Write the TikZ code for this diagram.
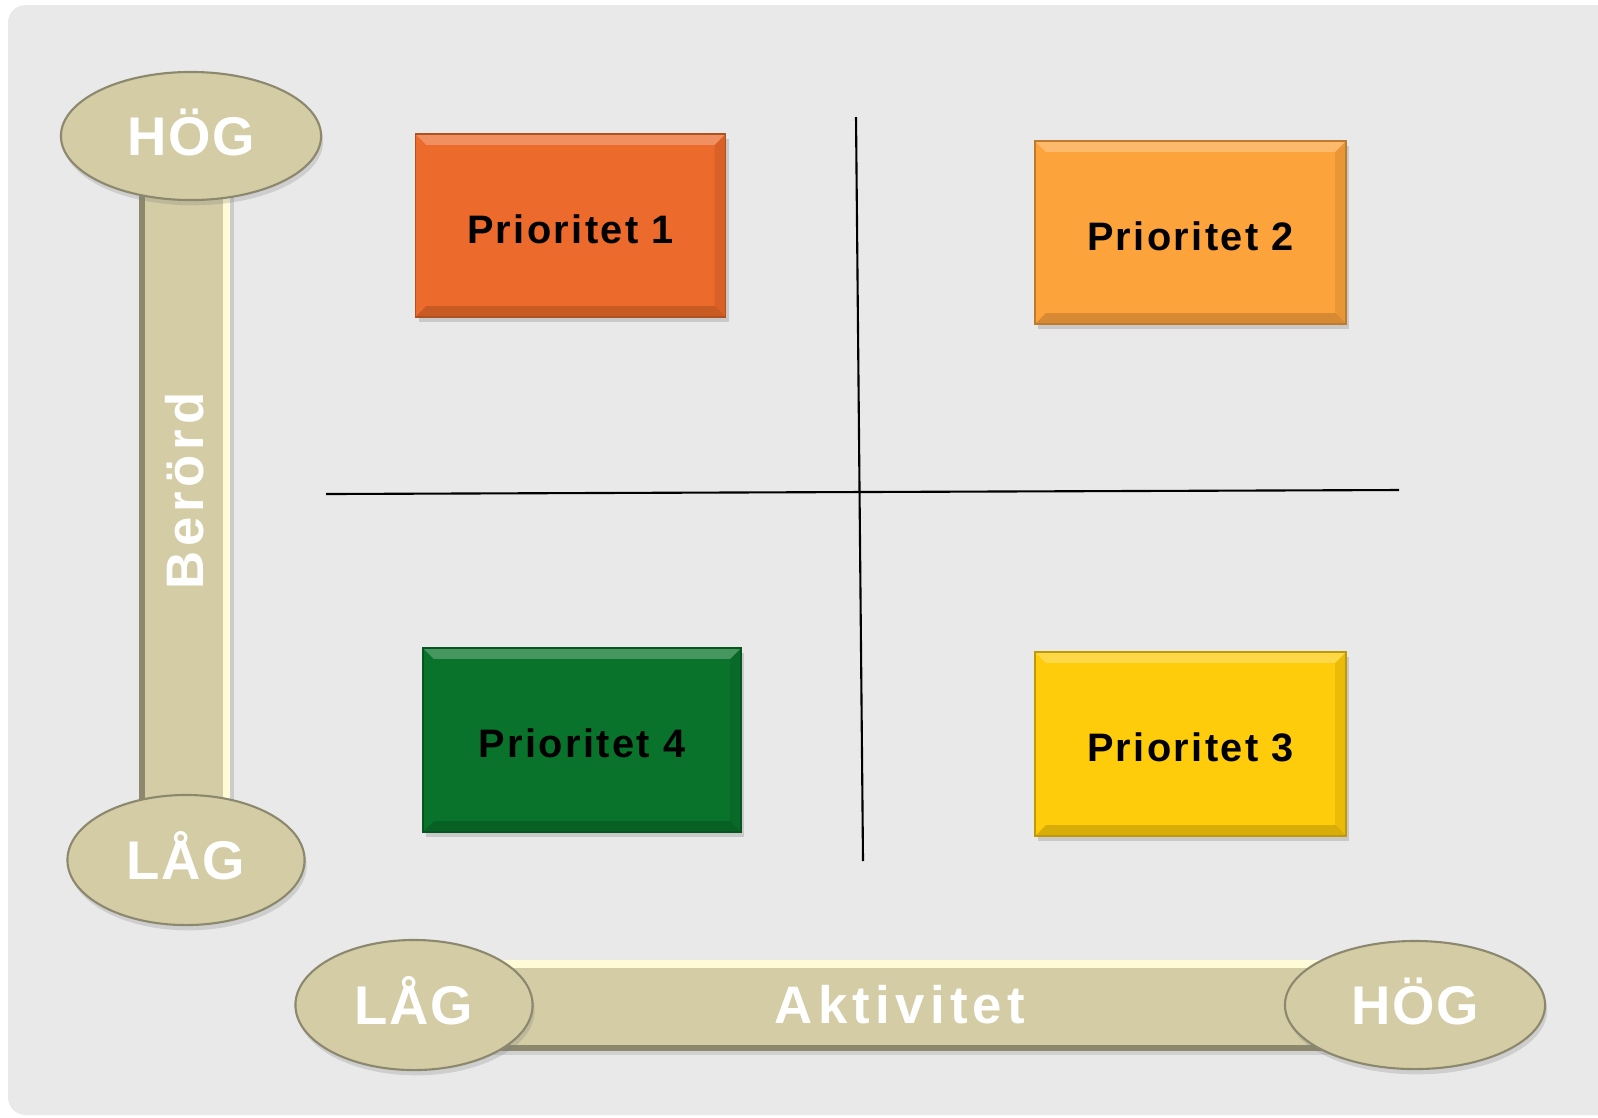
\documentclass[tikz,border=0pt]{standalone}
\usepackage{fontspec}
\setmainfont{Liberation Sans}
\newfontfamily\boxfont[LetterSpace=6]{Liberation Sans}
\newfontfamily\axisfont[LetterSpace=10]{Liberation Sans}
\newfontfamily\sidefont[LetterSpace=9]{Liberation Sans}
\newfontfamily\capfont[LetterSpace=3]{Liberation Sans}
\usetikzlibrary{shapes.geometric,shadows}

\definecolor{panelgray}{RGB}{233,233,233}
\definecolor{khaki}{RGB}{211,204,165}
\definecolor{khakilight}{RGB}{255,251,214}
\definecolor{khakidark}{RGB}{140,136,110}
\definecolor{prioorange}{RGB}{236,106,43}
\definecolor{priolight}{RGB}{253,163,60}
\definecolor{prioyellow}{RGB}{254,204,10}
\definecolor{priogreen}{RGB}{9,115,44}

\tikzset{
  prio/.style={rectangle, fill=#1, draw=#1!75!black, line width=0.4pt,
    minimum width=3.1cm, minimum height=1.83cm, inner sep=0pt,
    text height=10pt, text depth=0pt,
    font=\boxfont\bfseries\fontsize{11.3}{13}\selectfont,
    drop shadow={shadow xshift=0.9pt, shadow yshift=-1.3pt, opacity=0.3},
    path picture={
      \fill[white, opacity=0.25] (path picture bounding box.north west) -- (path picture bounding box.north east)
        -- ([shift={(-0.11cm,-0.11cm)}]path picture bounding box.north east) -- ([shift={(0.11cm,-0.11cm)}]path picture bounding box.north west) -- cycle;
      \fill[black, opacity=0.15] (path picture bounding box.south west) -- (path picture bounding box.south east)
        -- ([shift={(-0.11cm,0.11cm)}]path picture bounding box.south east) -- ([shift={(0.11cm,0.11cm)}]path picture bounding box.south west) -- cycle;
      \fill[black, opacity=0.08] (path picture bounding box.north east) -- (path picture bounding box.south east)
        -- ([shift={(-0.11cm,0.11cm)}]path picture bounding box.south east) -- ([shift={(-0.11cm,-0.11cm)}]path picture bounding box.north east) -- cycle;
    }},
  endcap/.style={ellipse, fill=khaki, draw=khakidark, line width=0.6pt, inner sep=0pt,
    text=white, text height=11pt, text depth=0pt,
    font=\capfont\bfseries\fontsize{15.5}{18}\selectfont,
    drop shadow={shadow xshift=0.6pt, shadow yshift=-1.5pt, opacity=0.25}},
  axislabel/.style={text=white, inner sep=0pt, text height=10.7pt, text depth=0pt,
    font=\axisfont\bfseries\fontsize{15}{18}\selectfont},
  axisbar/.style={draw=khaki, line width=0.9cm},
  quadline/.style={line width=0.6pt}
}

\begin{document}
\begin{tikzpicture}[x=0.01cm, y=-0.01cm]
    \useasboundingbox (0,0) rectangle (1598,1117);
    % panel
    \fill[panelgray, rounded corners=5pt] (8,5) rectangle (1620,1115);

    % quadrant lines
    \coordinate (vTop) at (856,117);
    \coordinate (vBot) at (863,861);
    \coordinate (hLeft) at (326,494);
    \coordinate (hRight) at (1399,490);
    \draw[quadline] (vTop) -- (vBot);
    \draw[quadline] (hLeft) -- (hRight);

    % priority boxes
    \node[prio=prioorange] (prio1) at (570.5,225.5) {Prioritet 1};
    \node[prio=priolight, minimum width=3.11cm] (prio2) at (1190.5,232.5) {Prioritet 2};
    \node[prio=prioyellow, minimum width=3.11cm, minimum height=1.84cm] (prio3) at (1190.5,744) {Prioritet 3};
    \node[prio=priogreen, minimum width=3.18cm, minimum height=1.84cm] (prio4) at (582,740) {Prioritet 4};

    % vertical axis bar
    \coordinate (berTop) at (185,190);
    \coordinate (berBot) at (185,810);
    \draw[axisbar] (berTop) -- (berBot);
    \draw[khakidark, line width=1.5pt] ([xshift=-0.43cm]berTop) -- ([xshift=-0.43cm]berBot);
    \draw[khakilight, line width=2pt] ([xshift=0.41cm]berTop) -- ([xshift=0.41cm]berBot);
    \draw[black!20, line width=1.2pt] ([xshift=0.47cm]berTop) -- ([xshift=0.47cm]berBot);

    % horizontal axis bar
    \coordinate (aktLeft) at (420,1005);
    \coordinate (aktRight) at (1410,1005);
    \draw[axisbar] (aktLeft) -- (aktRight);
    \draw[khakilight, line width=2pt] ([yshift=0.41cm]aktLeft) -- ([yshift=0.41cm]aktRight);
    \draw[khakidark, line width=1.5pt] ([yshift=-0.43cm]aktLeft) -- ([yshift=-0.43cm]aktRight);
    \draw[black!18, line width=1.2pt] ([yshift=-0.48cm]aktLeft) -- ([yshift=-0.48cm]aktRight);

    % axis ends
    \node[endcap, minimum width=2.6cm, minimum height=1.28cm] (berHigh) at (191,136) {HÖG};
    \node[endcap, minimum width=2.37cm, minimum height=1.3cm] (berLow) at (186,860) {LÅG};
    \node[endcap, minimum width=2.37cm, minimum height=1.3cm] (aktLow) at (414,1005) {LÅG};
    \node[endcap, minimum width=2.6cm, minimum height=1.28cm] (aktHigh) at (1415,1005) {HÖG};

    % axis names
    \node[axislabel] (aktName) at (900,1005) {Aktivitet};
    \node[axislabel, font=\sidefont\bfseries\fontsize{15}{18}\selectfont, rotate=90] (berName) at (185,491) {Berörd};
\end{tikzpicture}
\end{document}
